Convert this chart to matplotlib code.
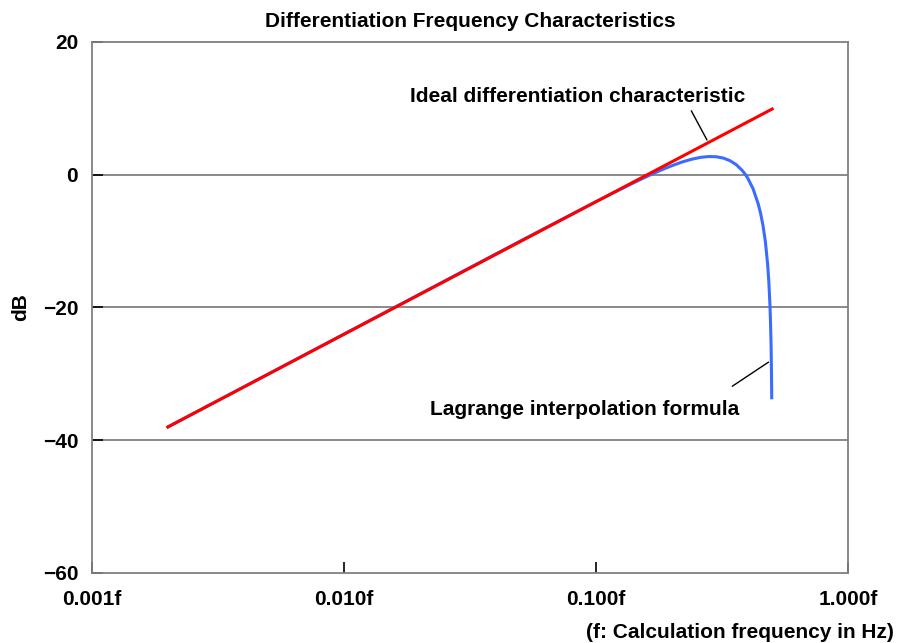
import matplotlib.pyplot as plt
from matplotlib.ticker import FixedLocator, NullLocator

plt.rcParams["font.family"] = ["Liberation Sans", "DejaVu Sans"]
plt.rcParams["font.weight"] = "bold"

# ideal differentiator: straight line on the log axis (end points)
ideal_f = [0.002, 0.5]
ideal_db = [-38.0, 9.9]

# Lagrange interpolation formula response
lag_f = [0.002, 0.01, 0.05, 0.1, 0.12, 0.14, 0.155, 0.17, 0.185, 0.2, 0.22,
         0.24, 0.26, 0.28, 0.30, 0.32, 0.34, 0.36, 0.38, 0.39, 0.40, 0.42,
         0.44, 0.45, 0.46, 0.47, 0.48, 0.485, 0.49, 0.492, 0.495, 0.497, 0.498]
lag_db = [-38.0, -24.0, -10.0, -4.05, -2.54, -1.27, -0.47, 0.24, 0.85, 1.36, 1.93,
          2.34, 2.62, 2.74, 2.71, 2.51, 2.12, 1.52, 0.66, 0.12, -0.52, -2.12,
          -4.37, -5.85, -7.70, -10.1, -13.6, -16.1, -19.6, -21.6, -25.6, -30.1, -33.6]

x_ticks = [0.001, 0.01, 0.1, 1.0]
x_labels = ["0.001f", "0.010f", "0.100f", "1.000f"]
y_ticks = [-60, -40, -20, 0, 20]


def main():
    fig = plt.figure(figsize=(8.97, 6.43), dpi=100)
    ax = fig.add_axes([0.1026, 0.1089, 0.8428, 0.8258])

    ax.set_xscale("log")
    ax.set_xlim(0.001, 1.0)
    ax.set_ylim(-60, 20)

    for y in [-40, -20, 0]:
        ax.axhline(y, color="#808080", lw=1.3, zorder=1)

    ax.plot(lag_f, lag_db, color="#3a6cff", lw=2.2, zorder=3)
    ax.plot(ideal_f, ideal_db, color="#ff0000", lw=2.2, zorder=4)

    ax.xaxis.set_major_locator(FixedLocator(x_ticks))
    ax.xaxis.set_minor_locator(NullLocator())
    ax.set_xticklabels(x_labels)
    ax.set_yticks(y_ticks)
    ax.tick_params(axis="both", direction="in", length=8, width=1.2,
                   color="black", labelsize=15)
    ax.tick_params(axis="x", pad=12)
    ax.tick_params(axis="y", pad=10)
    for lab in ax.get_xticklabels() + ax.get_yticklabels():
        lab.set_fontweight("bold")

    for sp in ax.spines.values():
        sp.set_color("#808080")
        sp.set_linewidth(1.3)

    ax.set_title("Differentiation Frequency Characteristics", fontsize=15,
                 fontweight="bold", pad=11)
    ax.set_ylabel("dB", fontsize=15, fontweight="bold", labelpad=9)
    fig.text(0.996, 0.017, "(f: Calculation frequency in Hz)", ha="right",
             va="center", fontsize=15, fontweight="bold")

    ax.text(0.0849, 11.8, "Ideal differentiation characteristic", ha="center",
            va="center", fontsize=15, fontweight="bold")
    ax.annotate("", xy=(0.279, 4.86), xytext=(0.236, 10.0),
                arrowprops=dict(arrowstyle="-", color="black", lw=1.0))

    ax.text(0.0897, -35.3, "Lagrange interpolation formula", ha="center",
            va="center", fontsize=15, fontweight="bold")
    ax.annotate("", xy=(0.494, -28.0), xytext=(0.340, -32.1),
                arrowprops=dict(arrowstyle="-", color="black", lw=1.0))

    fig.savefig("out.png", dpi=100)


if __name__ == "__main__":
    main()
